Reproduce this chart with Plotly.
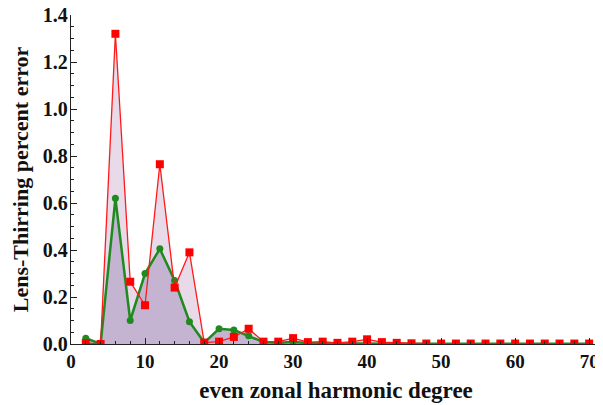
import plotly.graph_objects as go

degree = list(range(2, 72, 2))
red_err = [0.004, 0.0, 1.32, 0.265, 0.165, 0.765, 0.24, 0.39, 0.006, 0.01, 0.03, 0.065,
           0.01, 0.01, 0.025, 0.008, 0.01, 0.005, 0.01, 0.02, 0.008, 0.005, 0.003, 0.002,
           0.002, 0.002, 0.002, 0.002, 0.002, 0.002, 0.002, 0.002, 0.002, 0.002, 0.002]
green_err = [0.025, 0.0, 0.62, 0.10, 0.30, 0.405, 0.27, 0.095, 0.006, 0.065, 0.06, 0.035,
             0.008, 0.005, 0.008, 0.004, 0.003, 0.001, 0.001, 0.001, 0.001, 0.001, 0.001, 0.001,
             0.001, 0.001, 0.001, 0.001, 0.001, 0.001, 0.001, 0.001, 0.001, 0.001, 0.001]

x_ticks = [0, 10, 20, 30, 40, 50, 60, 70]
y_ticks = [0.0, 0.2, 0.4, 0.6, 0.8, 1.0, 1.2, 1.4]

fig = go.Figure()
fig.add_trace(go.Scatter(x=degree, y=red_err, mode="none", fill="tozeroy",
                         fillcolor="#e8dae8", showlegend=False))
fig.add_trace(go.Scatter(x=degree, y=green_err, mode="none", fill="tozeroy",
                         fillcolor="#c4b4d2", showlegend=False))
fig.add_trace(go.Scatter(x=degree, y=green_err, mode="lines+markers",
                         line=dict(color="#1f8a1f", width=2.5),
                         marker=dict(symbol="circle", size=7, color="#1f8a1f"),
                         showlegend=False))
fig.add_trace(go.Scatter(x=degree, y=red_err, mode="lines+markers",
                         line=dict(color="#ff1a1a", width=1.3),
                         marker=dict(symbol="square", size=8, color="#ff0000"),
                         showlegend=False))

fig.update_layout(
    width=595, height=397,
    margin=dict(l=63, r=2, t=7, b=61),
    plot_bgcolor="white", paper_bgcolor="white",
    xaxis=dict(range=[0, 71.6], tickvals=x_ticks, ticktext=[f"<b>{v}</b>" for v in x_ticks],
               ticks="inside", ticklen=6, tickwidth=1, tickcolor="#222",
               minor=dict(dtick=2, ticks="inside", ticklen=3, tickcolor="#222"),
               showline=True, linecolor="#222", linewidth=1.3, showgrid=False,
               zeroline=False, automargin=False, ticklabeloverflow="allow",
               tickfont=dict(family="Liberation Serif", size=19, color="#111"),
               title=dict(text="<b>even zonal harmonic degree</b>",
                          font=dict(family="Liberation Serif", size=23, color="#111"),
                          standoff=10)),
    yaxis=dict(range=[0, 1.4], tickvals=y_ticks, ticktext=[f"<b>{v:.1f}</b>" for v in y_ticks],
               ticks="inside", ticklen=6, tickwidth=1, tickcolor="#222",
               minor=dict(dtick=0.05, ticks="inside", ticklen=3, tickcolor="#222"),
               showline=True, linecolor="#222", linewidth=1.3, showgrid=False,
               zeroline=False, automargin=False, ticklabeloverflow="allow",
               ticklabelstandoff=-2,
               tickfont=dict(family="Liberation Serif", size=20, color="#111"),
               title=dict(text="<b>Lens-Thirring percent error</b>",
                          font=dict(family="Liberation Serif", size=22, color="#111"),
                          standoff=10)),
)
fig.write_html("out.html")
